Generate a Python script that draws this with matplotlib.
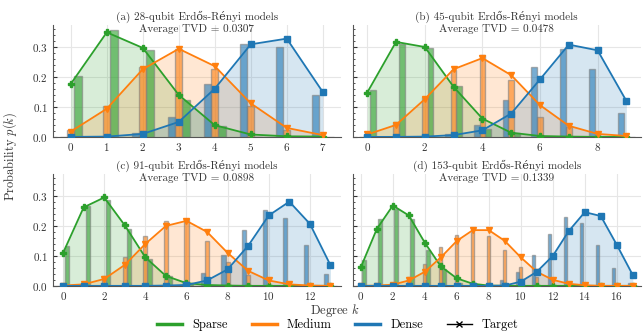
import matplotlib
matplotlib.use("Agg")
import matplotlib.pyplot as plt
from matplotlib.lines import Line2D
from matplotlib.ticker import MultipleLocator
import numpy as np

plt.rcParams['font.family'] = ['cmr10', 'DejaVu Serif']
plt.rcParams['mathtext.fontset'] = 'cm'
plt.rcParams['axes.unicode_minus'] = False
plt.rcParams['axes.formatter.use_mathtext'] = True

# panel titles / TVD
qubits = [28, 45, 91, 153]
letters = ['a', 'b', 'c', 'd']
tvd = ['0.0307', '0.0478', '0.0898', '0.1339']
names = ['Sparse', 'Medium', 'Dense']
colors = ['#2ca02c', '#ff7f0e', '#1f77b4']
markers = ['P', 'v', 's']

# target distributions (lines) per panel: sparse, medium, dense
target_a = [
    [0.177, 0.349, 0.297, 0.140, 0.039, 0.008, 0.002, 0.001],
    [0.018, 0.094, 0.226, 0.294, 0.236, 0.112, 0.030, 0.006],
    [0.000, 0.001, 0.010, 0.050, 0.161, 0.309, 0.328, 0.150],
]
target_b = [
    [0.148, 0.317, 0.300, 0.167, 0.061, 0.014, 0.003, 0.001, 0.000, 0.000],
    [0.008, 0.040, 0.126, 0.226, 0.263, 0.206, 0.106, 0.037, 0.010, 0.003],
    [0.000, 0.000, 0.001, 0.006, 0.022, 0.078, 0.192, 0.308, 0.289, 0.120],
]
target_c = [
    [0.110, 0.262, 0.295, 0.202, 0.095, 0.033, 0.009, 0.003, 0.001, 0.0, 0.0, 0.0, 0.0, 0.0],
    [0.001, 0.005, 0.023, 0.070, 0.140, 0.200, 0.217, 0.180, 0.110, 0.050, 0.018, 0.005, 0.001, 0.0],
    [0.0, 0.0, 0.0, 0.0, 0.0, 0.001, 0.003, 0.018, 0.055, 0.134, 0.235, 0.281, 0.207, 0.069],
]
target_d = [
    [0.062, 0.190, 0.268, 0.235, 0.144, 0.065, 0.025, 0.007, 0.001, 0.0, 0.0, 0.0, 0.0, 0.0, 0.0, 0.0, 0.0, 0.0],
    [0.0, 0.001, 0.004, 0.018, 0.047, 0.095, 0.150, 0.186, 0.186, 0.150, 0.095, 0.047, 0.020, 0.007, 0.002, 0.0, 0.0, 0.0],
    [0.0, 0.0, 0.0, 0.0, 0.0, 0.0, 0.0, 0.0, 0.0, 0.001, 0.014, 0.047, 0.100, 0.183, 0.246, 0.233, 0.137, 0.036],
]

# measured distributions (bars)
meas_a = [
    [0.204, 0.356, 0.289, 0.122, 0.036, 0.0, 0.0, 0.0],
    [0.022, 0.102, 0.232, 0.294, 0.226, 0.104, 0.024, 0.0],
    [0.0, 0.0, 0.013, 0.067, 0.176, 0.309, 0.300, 0.139],
]
meas_b = [
    [0.158, 0.311, 0.298, 0.171, 0.028, 0.013, 0.0, 0.0, 0.0, 0.0],
    [0.005, 0.049, 0.133, 0.224, 0.272, 0.189, 0.067, 0.032, 0.005, 0.0],
    [0.0, 0.0, 0.0, 0.008, 0.039, 0.122, 0.233, 0.294, 0.228, 0.081],
]
meas_c = [
    [0.132, 0.265, 0.287, 0.190, 0.090, 0.033, 0.005, 0.0, 0.0, 0.0, 0.0, 0.0, 0.0, 0.0],
    [0.003, 0.002, 0.034, 0.097, 0.165, 0.217, 0.222, 0.150, 0.080, 0.036, 0.004, 0.0, 0.0, 0.0],
    [0.0, 0.0, 0.0, 0.0, 0.0, 0.0, 0.003, 0.044, 0.102, 0.187, 0.253, 0.228, 0.138, 0.038],
]
meas_d = [
    [0.087, 0.222, 0.258, 0.222, 0.120, 0.056, 0.010, 0.0, 0.0, 0.0, 0.0, 0.0, 0.0, 0.0, 0.0, 0.0, 0.0, 0.0],
    [0.0, 0.0, 0.004, 0.030, 0.073, 0.130, 0.170, 0.179, 0.167, 0.120, 0.064, 0.029, 0.004, 0.0, 0.0, 0.0, 0.0, 0.0],
    [0.0, 0.0, 0.0, 0.0, 0.0, 0.0, 0.0, 0.0, 0.0, 0.018, 0.045, 0.104, 0.172, 0.229, 0.209, 0.137, 0.060, 0.010],
]

targets = [target_a, target_b, target_c, target_d]
measured = [meas_a, meas_b, meas_c, meas_d]
offsets = [0.2, 0.0, -0.2]

fig, axes = plt.subplots(2, 2, figsize=(6.44, 3.32), dpi=100, sharey=True)
fig.subplots_adjust(left=0.082, right=0.995, top=0.925, bottom=0.139, wspace=0.042, hspace=0.33)

for i, ax in enumerate(axes.flat):
    n = len(targets[i][0])
    k = np.arange(n)
    for j in range(3):
        ax.bar(k + offsets[j], measured[i][j], width=0.2, color=colors[j], alpha=0.6,
               edgecolor='gray', linewidth=1.0, zorder=2)
        ax.fill_between(k, targets[i][j], color=colors[j], alpha=0.18, lw=0, zorder=1)
        ax.plot(k, targets[i][j], color=colors[j], marker=markers[j], ms=5, lw=1.3, zorder=3)
    ax.set_xlim(-0.5, n - 0.5)
    ax.set_title(f"({letters[i]}) {qubits[i]}-qubit Erdős-Rényi models\nAverage TVD = {tvd[i]}",
                 fontsize=8, y=0.94, pad=0, color='#333333', linespacing=1.05)
    ax.xaxis.set_major_locator(MultipleLocator(1 if n <= 8 else 2))
    ax.yaxis.set_major_locator(MultipleLocator(0.1))
    ax.yaxis.set_minor_locator(MultipleLocator(0.02))
    ax.tick_params(axis='y', which='both', direction='in', labelsize=8, colors='#333333')
    ax.tick_params(axis='y', which='major', length=3)
    ax.tick_params(axis='y', which='minor', length=1.5)
    ax.tick_params(axis='x', which='both', length=0, labelsize=8, colors='#333333', pad=3)
    ax.grid(True, color='#e6e6e6', lw=0.8, zorder=0)
    ax.set_axisbelow(True)
    for s in ['top', 'right']:
        ax.spines[s].set_visible(False)
    for s in ['left', 'bottom']:
        ax.spines[s].set_color('#555555')
        ax.spines[s].set_linewidth(0.8)

fig.text(0.52, 0.066, 'Degree $k$', ha='center', va='center', fontsize=9, color='#333333')
fig.text(0.015, 0.53, 'Probability $p(k)$', ha='center', va='center', rotation=90, fontsize=9, color='#333333')

handles = [Line2D([], [], color=c, lw=2.5) for c in colors]
handles.append(Line2D([], [], color='black', lw=1, marker='x', ms=4))
fig.legend(handles, names + ['Target'], loc='center', bbox_to_anchor=(0.525, 0.02), ncol=4,
           frameon=False, fontsize=9, handlelength=2.0, columnspacing=1.9, handletextpad=0.8)

fig.savefig('out.png', dpi=100)
